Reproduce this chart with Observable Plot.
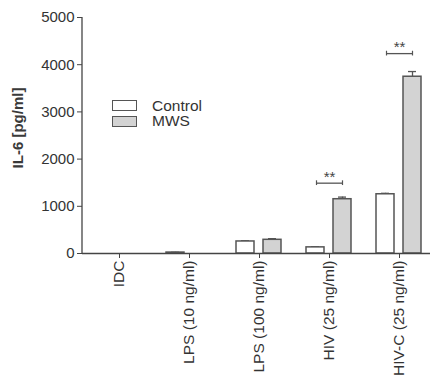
<!DOCTYPE html>
<html>
<head>
<meta charset="utf-8">
<script src="https://cdn.jsdelivr.net/npm/d3@7"></script>
<script src="https://cdn.jsdelivr.net/npm/@observablehq/plot@0.6"></script>
<style>
  html, body { margin: 0; padding: 0; background: #fff; }
  #wrap { position: relative; width: 430px; height: 386px; font-family: "Liberation Sans", Arial, sans-serif; }
  #wrap svg text { font-family: "Liberation Sans", Arial, sans-serif; }
  .legend { position: absolute; left: 112px; top: 98px; font-size: 15.5px; color: #333; }
  .legend .row { display: flex; align-items: center; height: 15.5px; }
  .legend .sw { width: 25px; height: 11px; border: 1.3px solid #555; margin-right: 15px; box-sizing: border-box; }
</style>
</head>
<body>
<div id="wrap"></div>
<script>
const categories = ["IDC", "LPS (10 ng/ml)", "LPS (100 ng/ml)", "HIV (25 ng/ml)", "HIV-C (25 ng/ml)"];
const series = ["Control", "MWS"];
const controlValues = [0, 20, 255, 130, 1255];
const controlErrors = [0, 5, 15, 15, 20];
const mwsValues = [0, 0, 290, 1150, 3745];
const mwsErrors = [0, 0, 25, 45, 110];
const yTicks = [0, 1000, 2000, 3000, 4000, 5000];
const sigCategories = ["HIV (25 ng/ml)", "HIV-C (25 ng/ml)"];
const sigLevels = [1490, 4235];
const sigLabels = ["**", "**"];

const fills = {Control: "#ffffff", MWS: "#d3d3d3"};
const stroke = "#555";

const rows = [];
categories.forEach((c, i) => {
  rows.push({cat: c, s: "Control", v: controlValues[i], e: controlErrors[i]});
  rows.push({cat: c, s: "MWS", v: mwsValues[i], e: mwsErrors[i]});
});
const ctrl = rows.filter(d => d.s === "Control");
const mws = rows.filter(d => d.s === "MWS");
const sig = sigCategories.map((c, i) => ({cat: c, y: sigLevels[i], label: sigLabels[i]}));

const barOpts = {
  Control: {insetLeft: 12, insetRight: 40, dx: -14},
  MWS: {insetLeft: 39, insetRight: 13, dx: 13}
};

function errMarks(data, s) {
  const o = barOpts[s];
  return [
    Plot.ruleX(data.filter(d => d.e > 0), {x: "cat", y1: "v", y2: d => d.v + d.e, dx: o.dx, stroke, strokeWidth: 1.3}),
    Plot.tickY(data.filter(d => d.e > 0), {x: "cat", y: d => d.v + d.e, insetLeft: 35 + o.dx - 4, insetRight: 35 - o.dx - 4, stroke, strokeWidth: 1.3})
  ];
}

const plot = Plot.plot({
  width: 430,
  height: 386,
  marginLeft: 82,
  marginRight: 0,
  marginTop: 17,
  marginBottom: 133,
  style: {fontFamily: "'Liberation Sans', Arial, sans-serif", color: "#333", background: "#fff"},
  x: {domain: categories, range: [84, 434], padding: 0, label: null},
  y: {domain: [0, 5000], label: null},
  marks: [
    Plot.axisY({ticks: yTicks, tickFormat: d => String(d), tickSize: 5, tickPadding: 3, fontSize: 15, stroke: "#444"}),
    Plot.axisX({tickSize: 5, tickPadding: 2, tickRotate: -90, fontSize: 15.5, stroke: "#444"}),
    ...errMarks(ctrl, "Control"),
    ...errMarks(mws, "MWS"),
    Plot.barY(ctrl, {x: "cat", y: "v", fill: fills.Control, stroke, strokeWidth: 1.5, insetLeft: barOpts.Control.insetLeft, insetRight: barOpts.Control.insetRight}),
    Plot.barY(mws, {x: "cat", y: "v", fill: fills.MWS, stroke, strokeWidth: 1.5, insetLeft: barOpts.MWS.insetLeft, insetRight: barOpts.MWS.insetRight}),
    Plot.ruleY([0], {stroke: "#444", strokeWidth: 1.3}),
    Plot.tickY(sig, {x: "cat", y: "y", insetLeft: 22, insetRight: 22, stroke, strokeWidth: 1.3}),
    Plot.ruleX(sig, {x: "cat", y1: d => d.y - 50, y2: d => d.y + 50, dx: -13, stroke, strokeWidth: 1.2}),
    Plot.ruleX(sig, {x: "cat", y1: d => d.y - 50, y2: d => d.y + 50, dx: 13, stroke, strokeWidth: 1.2}),
    Plot.text(sig, {x: "cat", y: "y", text: "label", dy: -6, fontSize: 15, fill: "#444"})
  ]
});

// vertical y-axis line at the left edge of the frame, from the y scale
const ys = plot.scale("y");
d3.select(plot).append("line")
  .attr("x1", 82).attr("x2", 82)
  .attr("y1", ys.apply(0)).attr("y2", ys.apply(5000))
  .attr("stroke", "#444").attr("stroke-width", 1.3);
// y-axis title
d3.select(plot).append("text")
  .attr("transform", `translate(23,${(ys.apply(0) + ys.apply(5000)) / 2 - 7}) rotate(-90)`)
  .attr("text-anchor", "middle")
  .attr("font-size", 15).attr("font-weight", "bold").attr("fill", "#3a3a3a")
  .text("IL-6 [pg/ml]");

const wrap = document.getElementById("wrap");
wrap.appendChild(plot);
const legend = document.createElement("div");
legend.className = "legend";
series.forEach(s => {
  const r = document.createElement("div");
  r.className = "row";
  const sw = document.createElement("div");
  sw.className = "sw";
  sw.style.background = fills[s];
  const t = document.createElement("span");
  t.textContent = s;
  r.appendChild(sw); r.appendChild(t);
  legend.appendChild(r);
});
wrap.appendChild(legend);
</script>
</body>
</html>
